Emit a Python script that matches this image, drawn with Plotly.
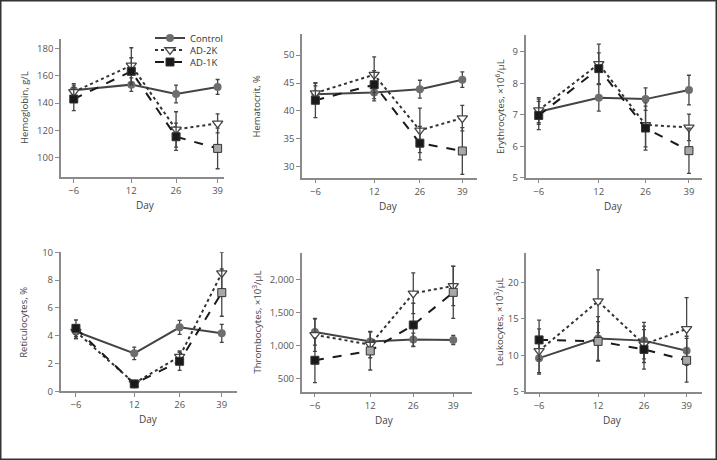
import plotly.graph_objects as go

W, H = 717, 460
days = [-6, 12, 26, 39]
series_names = ["Control", "AD-2K", "AD-1K"]

# Hemoglobin, g/L
hgb_control = [149.4, 153.6, 146.7, 151.9]
hgb_control_err = [5, 5, 6.5, 5.5]
hgb_ad2k = [148.2, 167.8, 120.6, 125.0]
hgb_ad2k_err = [5, 13, 13, 7]
hgb_ad1k = [143.0, 163.4, 115.2, 106.6]
hgb_ad1k_err = [8.5, 10, 10, 15]

# Hematocrit, %
hct_control = [43.0, 43.3, 43.9, 45.6]
hct_control_err = [1.5, 1.5, 1.6, 1.4]
hct_ad2k = [43.2, 46.5, 36.5, 38.7]
hct_ad2k_err = [1.8, 3.2, 4.0, 2.3]
hct_ad1k = [41.9, 44.7, 34.2, 32.8]
hct_ad1k_err = [3.1, 2.5, 3.0, 4.2]

# Erythrocytes, x10^6/uL
ery_control = [7.10, 7.54, 7.50, 7.79]
ery_control_err = [0.40, 0.42, 0.36, 0.47]
ery_ad2k = [7.15, 8.62, 6.68, 6.60]
ery_ad2k_err = [0.40, 0.63, 0.70, 0.42]
ery_ad1k = [6.98, 8.47, 6.58, 5.86]
ery_ad1k_err = [0.45, 0.50, 0.70, 0.72]

# Reticulocytes, %
ret_control = [4.30, 2.73, 4.60, 4.17]
ret_control_err = [0.5, 0.45, 0.5, 0.65]
ret_ad2k = [4.30, 0.58, 2.50, 8.50]
ret_ad2k_err = [0.5, 0.2, 0.4, 1.5]
ret_ad1k = [4.53, 0.53, 2.16, 7.10]
ret_ad1k_err = [0.6, 0.2, 0.65, 1.7]

# Thrombocytes, x10^3/uL
thr_control = [1205, 1058, 1088, 1083]
thr_control_err = [200, 150, 100, 70]
thr_ad2k = [1159, 1012, 1792, 1904]
thr_ad2k_err = [250, 200, 310, 300]
thr_ad1k = [774, 916, 1311, 1807]
thr_ad1k_err = [340, 290, 330, 395]

# Leukocytes, x10^3/uL
leu_control = [9.6, 12.3, 12.0, 10.6]
leu_control_err = [2.2, 3.0, 2.5, 2.0]
leu_ad2k = [10.6, 17.4, 11.5, 13.6]
leu_ad2k_err = [3.0, 4.3, 2.5, 4.3]
leu_ad1k = [12.1, 11.9, 10.8, 9.3]
leu_ad1k_err = [2.7, 2.7, 2.7, 3.0]

y_titles = ["Hemoglobin, g/L", "Hematocrit, %", "Erythrocytes, ×10<sup>6</sup>/μL",
            "Reticulocytes, %", "Thrombocytes, ×10<sup>3</sup>/μL", "Leukocytes, ×10<sup>3</sup>/μL"]
y_ticks = [[100, 120, 140, 160, 180], [30, 35, 40, 45, 50], [5, 6, 7, 8, 9],
           [0, 2, 4, 6, 8, 10], [500, 1000, 1500, 2000], [5, 10, 15, 20]]

panels = [
    (hgb_control, hgb_control_err, hgb_ad2k, hgb_ad2k_err, hgb_ad1k, hgb_ad1k_err),
    (hct_control, hct_control_err, hct_ad2k, hct_ad2k_err, hct_ad1k, hct_ad1k_err),
    (ery_control, ery_control_err, ery_ad2k, ery_ad2k_err, ery_ad1k, ery_ad1k_err),
    (ret_control, ret_control_err, ret_ad2k, ret_ad2k_err, ret_ad1k, ret_ad1k_err),
    (thr_control, thr_control_err, thr_ad2k, thr_ad2k_err, thr_ad1k, thr_ad1k_err),
    (leu_control, leu_control_err, leu_ad2k, leu_ad2k_err, leu_ad1k, leu_ad1k_err),
]

# layout (pixel boxes: left, right, top, bottom) and axis ranges
boxes = [(61, 224, 38.5, 177.3), (302, 476.7, 34, 177.7), (525.7, 702.3, 35, 177.7),
         (60.7, 237, 252.3, 391.3), (301.7, 471.7, 252.7, 391.7), (526.3, 701.7, 252.7, 391.7)]
x_ranges = [[-10, 41], [-10.1, 43.4], [-9.9, 43], [-10.7, 43.7], [-10.3, 45], [-9.9, 43.6]]
y_ranges = [[85.3, 187.6], [28, 53.8], [5, 9.54], [0, 10], [296, 2410], [5, 24.05]]
ytitle_x = [25, 256.7, 500.7, 24, 257.3, 499]
GRAY_SQ = "#a8a8a8"
ad1k_colors = [["#1a1a1a"] * 3 + [GRAY_SQ], ["#1a1a1a"] * 3 + [GRAY_SQ], ["#1a1a1a"] * 3 + [GRAY_SQ],
               ["#1a1a1a"] * 3 + [GRAY_SQ], ["#1a1a1a", GRAY_SQ, "#1a1a1a", GRAY_SQ],
               ["#1a1a1a", GRAY_SQ, "#1a1a1a", GRAY_SQ]]

FONT = "Open Sans"
fig = go.Figure()
err_style = dict(type="data", color="#444444", thickness=1.3, width=2)

for i, (c, ce, a2, a2e, a1, a1e) in enumerate(panels):
    xa = "x" if i == 0 else f"x{i+1}"
    ya = "y" if i == 0 else f"y{i+1}"
    show = i == 0
    fig.add_trace(go.Scatter(x=days, y=c, name=series_names[0], mode="lines+markers", xaxis=xa, yaxis=ya,
                             line=dict(color="#444444", width=2),
                             marker=dict(symbol="circle", size=8, color="#6e6e6e"),
                             error_y=dict(array=ce, **err_style), showlegend=show, legend="legend"))
    fig.add_trace(go.Scatter(x=days, y=a2, name=series_names[1], mode="lines+markers", xaxis=xa, yaxis=ya,
                             line=dict(color="#333333", width=2, dash="dot"),
                             marker=dict(symbol="triangle-down", size=9, color="white",
                                         line=dict(color="#444444", width=1.3)),
                             error_y=dict(array=a2e, **err_style), showlegend=show, legend="legend2"))
    fig.add_trace(go.Scatter(x=days, y=a1, name=series_names[2], mode="lines+markers", xaxis=xa, yaxis=ya,
                             line=dict(color="#1a1a1a", width=2, dash="dash"),
                             marker=dict(symbol="square", size=8, color=ad1k_colors[i],
                                         line=dict(color="#333333", width=1)),
                             error_y=dict(array=a1e, **err_style), showlegend=show, legend="legend3"))

layout = dict(width=W, height=H, margin=dict(l=0, r=0, t=0, b=0), autosize=False,
              paper_bgcolor="white", plot_bgcolor="white",
              font=dict(family=FONT, size=10, color="#444444"))
axis_common = dict(showline=True, linecolor="#8a8a8a", linewidth=1.5, ticks="outside", ticklen=4,
                   tickcolor="#8a8a8a", tickwidth=1.2, showgrid=False, zeroline=False,
                   tickfont=dict(family=FONT, size=9.5, color="#555555"), automargin=False)
annotations = []
for i in range(6):
    l, r, t, b = boxes[i]
    sx = "" if i == 0 else str(i + 1)
    layout["xaxis" + sx] = dict(domain=[l / W, r / W], range=x_ranges[i], tickvals=days,
                                anchor="y" + sx, **axis_common)
    layout["yaxis" + sx] = dict(domain=[1 - b / H, 1 - t / H], range=y_ranges[i], tickvals=y_ticks[i],
                                tickformat=",", anchor="x" + sx, **axis_common)
    annotations.append(dict(text="Day", xref="x" + sx, x=16.5, yref="paper", y=1 - (b + 28) / H,
                            showarrow=False, font=dict(family=FONT, size=10, color="#444444"),
                            xanchor="center", yanchor="middle"))
    annotations.append(dict(text=y_titles[i], xref="paper", x=ytitle_x[i] / W, yref="paper",
                            y=1 - (t + b) / 2 / H, textangle=-90, showarrow=False,
                            font=dict(family=FONT, size=9.5, color="#444444"),
                            xanchor="center", yanchor="middle"))
layout["annotations"] = annotations
legend_rows_px = [38, 50, 62]
for k, name in enumerate(["legend", "legend2", "legend3"]):
    layout[name] = dict(x=150 / W, y=1 - legend_rows_px[k] / H, xanchor="left", yanchor="middle",
                        bgcolor="rgba(0,0,0,0)", font=dict(family=FONT, size=9.5, color="#333333"),
                        itemwidth=30)
layout["shapes"] = [dict(type="rect", xref="paper", yref="paper", x0=0, x1=1, y0=0, y1=1,
                         line=dict(color="#333333", width=3))]
fig.update_layout(**layout)
fig.write_html("out.html", config={"displayModeBar": False},
               post_script="document.body.style.margin='0';")
